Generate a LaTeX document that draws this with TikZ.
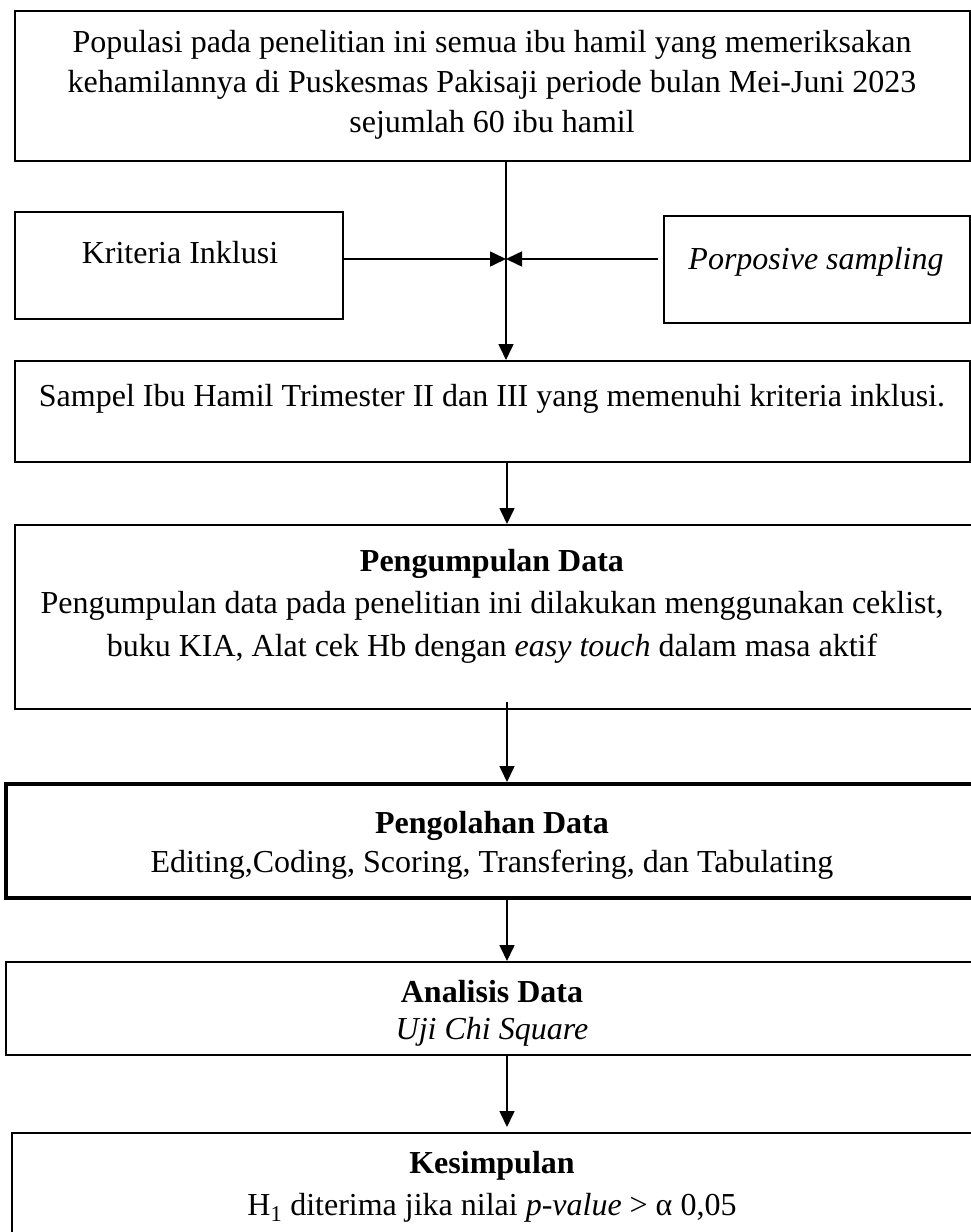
\documentclass[tikz,border=0pt]{standalone}
\usepackage{fontspec}
\setmainfont{Liberation Serif}
\usetikzlibrary{arrows.meta}
\tikzset{
  box/.style={draw=black, line width=2.2pt, fill=none, inner sep=0pt, anchor=north west},
  thickbox/.style={box, line width=3.6pt},
  txt/.style={inner sep=0pt, align=center, font=\fontsize{32}{40}\selectfont},
  arr/.style={line width=1.6pt, -{Triangle[length=16pt,width=15pt]}},
  ln/.style={line width=1.6pt}
}
\begin{document}
\begin{tikzpicture}[x=1pt,y=1pt]
\useasboundingbox (0,0) rectangle (971,-1232);
\clip (0,0) rectangle (971,-1232);
% boxes
\node[box, minimum width=955pt, minimum height=150pt] (b1) at (14,-10) {};
\node[box, minimum width=328pt, minimum height=107pt] (kr) at (14,-211) {};
\node[box, minimum width=306pt, minimum height=107pt] (po) at (663,-215) {};
\node[box, minimum width=955pt, minimum height=101pt] (sp) at (14,-360) {};
\node[box, minimum width=1000pt, minimum height=184pt] (pk) at (14,-524) {};
\node[thickbox, minimum width=1000pt, minimum height=114pt] (ol) at (4,-782) {};
\node[box, minimum width=1000pt, minimum height=93pt] (an) at (5,-961) {};
\node[box, minimum width=1000pt, minimum height=160pt] (ks) at (11,-1132) {};
% texts
\node[txt] (t1) at (492,-85) {Populasi pada penelitian ini semua ibu hamil yang memeriksakan\\kehamilannya di Puskesmas Pakisaji periode bulan Mei-Juni 2023\\sejumlah 60 ibu hamil};
\node[txt] (tkr) at (180,-253) {Kriteria Inklusi};
\node[txt] (tpo) at (816,-262) {\itshape Porposive sampling};
\node[txt] (tsp) at (492,-399) {Sampel Ibu Hamil Trimester II dan III yang memenuhi kriteria inklusi.};
\node[txt, font=\fontsize{32}{42.5}\selectfont] (tpk) at (492,-606) {\textbf{Pengumpulan Data}\\Pengumpulan data pada penelitian ini dilakukan menggunakan ceklist,\\buku KIA, Alat cek Hb dengan \textit{easy touch} dalam masa aktif};
\node[txt, font=\fontsize{32}{39}\selectfont] (tol) at (492,-845) {\textbf{Pengolahan Data}\\Editing,Coding, Scoring, Transfering, dan Tabulating};
\node[txt, font=\fontsize{32}{37}\selectfont] (tan) at (492,-1013) {\textbf{Analisis Data}\\\textit{Uji Chi Square}};
\node[txt, font=\fontsize{32}{42}\selectfont] (tks) at (492,-1187) {\textbf{Kesimpulan}\\H\textsubscript{1} diterima jika nilai \textit{p-value} > α 0,05};
% connectors
\coordinate (ax) at (507,0);
\coordinate (j) at (506,-259);
\draw[arr] (b1.south -| j) -- (sp.north -| j);
\draw[arr] (kr.east |- j) -- (j);
\draw[arr] ([xshift=-5pt]po.west |- j) -- (j);
\draw[arr] (sp.south -| ax) -- (pk.north -| ax);
\draw[arr] ([yshift=8pt]pk.south -| ax) -- (ol.north -| ax);
\draw[arr] (ol.south -| ax) -- (an.north -| ax);
\draw[arr] (an.south -| ax) -- ([yshift=5pt]ks.north -| ax);
\end{tikzpicture}
\end{document}
